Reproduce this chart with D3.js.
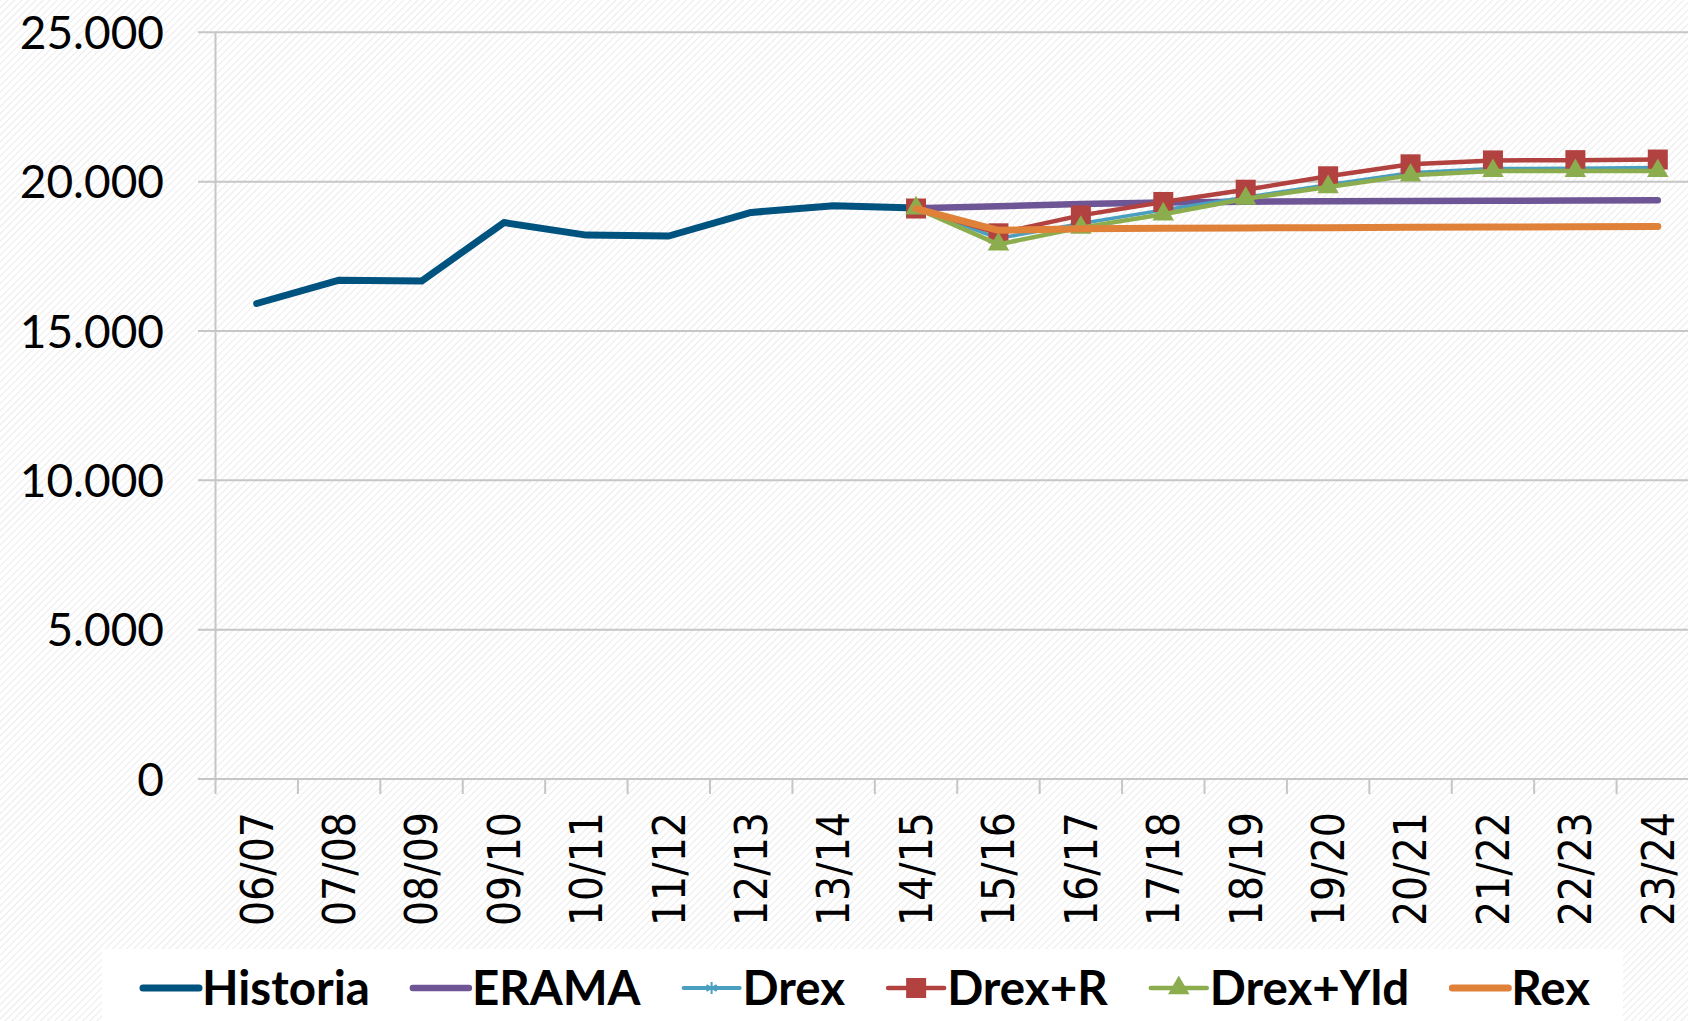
<!DOCTYPE html>
<html>
<head>
<meta charset="utf-8">
<script src="https://cdn.jsdelivr.net/npm/d3@7"></script>
<style>
  html, body { margin: 0; padding: 0; background: #fff; }
  svg { display: block; }
</style>
</head>
<body>
<svg id="chart" width="1688" height="1021"></svg>
<script>
const categories = ['06/07', '07/08', '08/09', '09/10', '10/11', '11/12', '12/13', '13/14', '14/15',
  '15/16', '16/17', '17/18', '18/19', '19/20', '20/21', '21/22', '22/23', '23/24'];
const yTicks = [0, 5000, 10000, 15000, 20000, 25000];

const historia = [15920, 16700, 16670, 18630, 18210, 18180, 18970, 19190, 19120,
  null, null, null, null, null, null, null, null, null];
const erama = [null, null, null, null, null, null, null, null, 19110,
  19180, 19250, 19300, 19330, 19340, 19350, 19360, 19370, 19380];
const drex = [null, null, null, null, null, null, null, null, 19110,
  18100, 18600, 19050, 19480, 19900, 20300, 20440, 20450, 20470];
const drexR = [null, null, null, null, null, null, null, null, 19100,
  18270, 18870, 19320, 19730, 20180, 20580, 20710, 20720, 20740];
const drexYld = [null, null, null, null, null, null, null, null, 19110,
  17900, 18460, 18910, 19430, 19820, 20210, 20360, 20360, 20360];
const rex = [null, null, null, null, null, null, null, null, 19100,
  18370, 18420, 18440, 18450, 18460, 18470, 18480, 18490, 18500];

const series = [
  { name: 'Historia', values: historia, color: '#00527f', width: 7, marker: null },
  { name: 'ERAMA', values: erama, color: '#6e5596', width: 6.5, marker: null },
  { name: 'Drex', values: drex, color: '#4a9fc0', width: 3.5, marker: 'star' },
  { name: 'Drex+R', values: drexR, color: '#b2423f', width: 4.5, marker: 'square' },
  { name: 'Drex+Yld', values: drexYld, color: '#8cad4e', width: 4.5, marker: 'triangle' },
  { name: 'Rex', values: rex, color: '#df8139', width: 7, marker: null }
];

const width = 1688, height = 1021;
const svg = d3.select('#chart');

// hatched background
const defs = svg.append('defs');
defs.append('pattern')
  .attr('id', 'hatch')
  .attr('patternUnits', 'userSpaceOnUse')
  .attr('width', 5).attr('height', 5)
  .attr('patternTransform', 'rotate(45)')
  .append('line')
  .attr('x1', 0).attr('y1', 0).attr('x2', 0).attr('y2', 5)
  .attr('stroke', '#e6e6e6').attr('stroke-width', 1.6);

svg.append('rect').attr('width', width).attr('height', height).attr('fill', '#fff');
svg.append('rect').attr('width', width).attr('height', height).attr('fill', 'url(#hatch)');

const x = d3.scaleBand().domain(categories).range([215.5, 1699]);
const y = d3.scaleLinear().domain([0, 25000]).range([779, 32.3]);
const cx = d => x(d) + x.bandwidth() / 2;

// gridlines + y axis
const gridColor = '#c6c6c6';
svg.append('g')
  .selectAll('line')
  .data(yTicks)
  .join('line')
  .attr('x1', 198).attr('x2', width)
  .attr('y1', d => y(d)).attr('y2', d => y(d))
  .attr('stroke', gridColor).attr('stroke-width', 2);

svg.append('line')
  .attr('x1', x.range()[0]).attr('x2', x.range()[0])
  .attr('y1', y(25000)).attr('y2', y(0) + 15)
  .attr('stroke', gridColor).attr('stroke-width', 2);

// x tick marks at band boundaries
svg.append('g')
  .selectAll('line')
  .data(categories.slice(1))
  .join('line')
  .attr('x1', d => x(d)).attr('x2', d => x(d))
  .attr('y1', y(0)).attr('y2', y(0) + 15)
  .attr('stroke', gridColor).attr('stroke-width', 2);

// y labels
svg.append('g')
  .selectAll('text')
  .data(yTicks)
  .join('text')
  .attr('x', 164)
  .attr('y', d => y(d))
  .attr('dy', '0.36em')
  .attr('text-anchor', 'end')
  .style('font-family', 'Lato, sans-serif')
  .style('font-size', '46px')
  .attr('fill', '#000')
  .text(d => d === 0 ? '0' : d3.format(',')(d).replace(/,/g, '.'));

// x labels
svg.append('g')
  .selectAll('text')
  .data(categories)
  .join('text')
  .attr('transform', d => `translate(${cx(d)}, 812) rotate(-90)`)
  .attr('dy', '0.36em')
  .attr('text-anchor', 'end')
  .style('font-family', '"DejaVu Sans Condensed", "DejaVu Sans", sans-serif')
  .style('font-stretch', 'condensed')
  .style('font-size', '44px')
  .attr('fill', '#000')
  .text(d => d);

// lines
const line = d3.line()
  .defined(d => d.v != null)
  .x(d => cx(d.c))
  .y(d => y(d.v));

function drawMarker(g, type, color, size) {
  if (type === 'square') {
    g.append('rect')
      .attr('x', -size / 2).attr('y', -size / 2)
      .attr('width', size).attr('height', size)
      .attr('fill', color);
  } else if (type === 'triangle') {
    g.append('path')
      .attr('d', d3.symbol(d3.symbolTriangle, size * size * 0.5)())
      .attr('fill', color);
  } else if (type === 'star') {
    g.append('path')
      .attr('d', d3.symbol(d3.symbolAsterisk, size * size * 0.5)())
      .attr('stroke', color).attr('stroke-width', 2).attr('fill', 'none');
  }
}

series.forEach(s => {
  const pts = categories.map((c, i) => ({ c, v: s.values[i] }));
  const g = svg.append('g');
  g.append('path')
    .datum(pts)
    .attr('d', line)
    .attr('fill', 'none')
    .attr('stroke', s.color)
    .attr('stroke-width', s.width)
    .attr('stroke-linejoin', 'round')
    .attr('stroke-linecap', 'round');
  if (s.marker) {
    pts.filter(p => p.v != null).forEach(p => {
      const m = g.append('g').attr('transform', `translate(${cx(p.c)}, ${y(p.v)})`);
      drawMarker(m, s.marker, s.color, s.marker === 'star' ? 14 : 20);
    });
  }
});

// legend
svg.append('rect')
  .attr('x', 102).attr('y', 949)
  .attr('width', 1521).attr('height', 72)
  .attr('fill', '#fff');

const legend = svg.append('g');
let lx = 143;
const ly = 988;
series.forEach(s => {
  const item = legend.append('g');
  item.append('line')
    .attr('x1', lx).attr('x2', lx + 56)
    .attr('y1', ly).attr('y2', ly)
    .attr('stroke', s.color)
    .attr('stroke-width', s.marker ? Math.max(s.width, 4) : s.width)
    .attr('stroke-linecap', 'round');
  if (s.marker) {
    const m = item.append('g').attr('transform', `translate(${lx + 28}, ${ly})`);
    drawMarker(m, s.marker, s.color, s.marker === 'star' ? 14 : 20);
  }
  const t = item.append('text')
    .attr('x', lx + 59)
    .attr('y', ly)
    .attr('dy', '0.36em')
    .style('font-family', 'Lato, sans-serif')
    .style('font-weight', 'bold')
    .style('font-size', '47.5px')
    .attr('fill', '#000')
    .text(s.name);
  lx = lx + 59 + t.node().getComputedTextLength() + 43;
});
</script>
</body>
</html>
